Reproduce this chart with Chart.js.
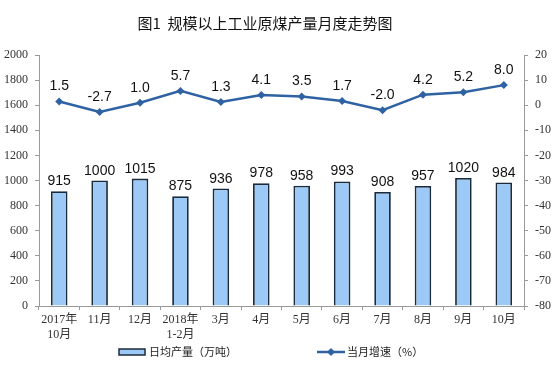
<!DOCTYPE html>
<html>
<head>
<meta charset="utf-8">
<script src="https://cdn.jsdelivr.net/npm/chart.js@4/dist/chart.umd.min.js"></script>
<style>
  body { margin: 0; background: #fff; }
</style>
</head>
<body>
<canvas id="chart" width="560" height="385"></canvas>
<script>
// 数据
const categories = [['2017年', '10月'], '11月', '12月', ['2018年', '1-2月'], '3月', '4月', '5月', '6月', '7月', '8月', '9月', '10月'];
const dailyOutput = [915, 1000, 1015, 875, 936, 978, 958, 993, 908, 957, 1020, 984];
const monthGrowth = [1.5, -2.7, 1.0, 5.7, 1.3, 4.1, 3.5, 1.7, -2.0, 4.2, 5.2, 8.0];
const titleText = '图1  规模以上工业原煤产量月度走势图';
const barLegend = '日均产量（万吨）';
const lineLegend = '当月增速（%）';

const barFill = '#9cc9f5';
const barBorder = '#1c2b3c';
const lineColor = '#2f62a3';
const axisColor = '#9a9a9a';
const serifFont = "'Liberation Serif', 'Noto Sans CJK SC', serif";
const sansFont = "'Liberation Sans', Arial, sans-serif";
const cjkFont = "'Noto Sans CJK SC', sans-serif";

// 数据标签、标题、图例
const decorPlugin = {
    id: 'decor',
    afterDatasetsDraw(chart) {
        const ctx = chart.ctx;
        ctx.save();
        ctx.fillStyle = '#111';
        ctx.font = '14px ' + sansFont;
        ctx.textAlign = 'center';
        ctx.textBaseline = 'alphabetic';
        chart.getDatasetMeta(1).data.forEach((bar, i) => {
            ctx.fillText(String(dailyOutput[i]), bar.x, bar.y - 6);
        });
        chart.getDatasetMeta(0).data.forEach((pt, i) => {
            ctx.fillText(monthGrowth[i].toFixed(1), pt.x, pt.y - 11);
        });
        ctx.restore();
    },
    afterDraw(chart) {
        const ctx = chart.ctx;
        ctx.save();
        // 标题
        ctx.fillStyle = '#111';
        ctx.font = '15px ' + cjkFont;
        ctx.textAlign = 'center';
        ctx.textBaseline = 'middle';
        ctx.fillText(titleText, 265, 23);

        // 图例
        const ly = 352;
        ctx.fillStyle = barFill;
        ctx.fillRect(119, ly - 3, 26, 6);
        ctx.strokeStyle = barBorder;
        ctx.lineWidth = 1.5;
        ctx.strokeRect(119, ly - 3, 26, 6);

        ctx.strokeStyle = lineColor;
        ctx.lineWidth = 2.5;
        ctx.beginPath();
        ctx.moveTo(317, ly);
        ctx.lineTo(345, ly);
        ctx.stroke();
        ctx.fillStyle = lineColor;
        ctx.beginPath();
        ctx.moveTo(331, ly - 4);
        ctx.lineTo(335, ly);
        ctx.lineTo(331, ly + 4);
        ctx.lineTo(327, ly);
        ctx.closePath();
        ctx.fill();

        ctx.fillStyle = '#222';
        ctx.font = '11px ' + cjkFont;
        ctx.textAlign = 'left';
        ctx.fillText(barLegend, 149, ly);
        ctx.fillText(lineLegend, 347, ly);
        ctx.restore();
    }
};

const ctx = document.getElementById('chart').getContext('2d');
new Chart(ctx, {
    data: {
        labels: categories,
        datasets: [
            {
                type: 'line',
                label: lineLegend,
                data: monthGrowth,
                yAxisID: 'y1',
                borderColor: lineColor,
                backgroundColor: lineColor,
                borderWidth: 2.5,
                pointStyle: 'rectRot',
                pointRadius: 4,
                pointBorderWidth: 0,
                tension: 0,
                order: 0
            },
            {
                type: 'bar',
                label: barLegend,
                data: dailyOutput,
                yAxisID: 'y',
                backgroundColor: barFill,
                borderColor: barBorder,
                borderWidth: 1.8,
                barPercentage: 0.41,
                categoryPercentage: 1,
                order: 1
            }
        ]
    },
    options: {
        responsive: false,
        animation: false,
        layout: { padding: { top: 55, bottom: 45, left: 0, right: 0 } },
        plugins: {
            legend: { display: false },
            title: { display: false },
            tooltip: { enabled: false }
        },
        scales: {
            x: {
                offset: true,
                grid: { offset: true, drawOnChartArea: false, tickLength: 4, color: axisColor },
                border: { color: axisColor },
                ticks: {
                    color: '#333',
                    font: { family: serifFont, size: 12 },
                    maxRotation: 0,
                    autoSkip: false,
                    padding: 3
                },
                afterFit(scale) { scale.height = 34; }
            },
            y: {
                position: 'left',
                min: 0,
                max: 2000,
                grid: { drawOnChartArea: false, tickLength: 4, color: axisColor },
                border: { color: axisColor },
                ticks: {
                    stepSize: 200,
                    color: '#333',
                    font: { family: serifFont, size: 12 },
                    padding: 7,
                    callback: v => String(v)
                },
                afterFit(scale) { scale.width = 39; }
            },
            y1: {
                position: 'right',
                min: -80,
                max: 20,
                grid: { drawOnChartArea: false, tickLength: 4, color: axisColor },
                border: { color: axisColor },
                ticks: {
                    stepSize: 10,
                    color: '#333',
                    font: { family: serifFont, size: 12 },
                    padding: 7,
                    callback: v => String(v)
                },
                afterFit(scale) { scale.width = 36; }
            }
        }
    },
    plugins: [decorPlugin]
});
</script>
</body>
</html>
